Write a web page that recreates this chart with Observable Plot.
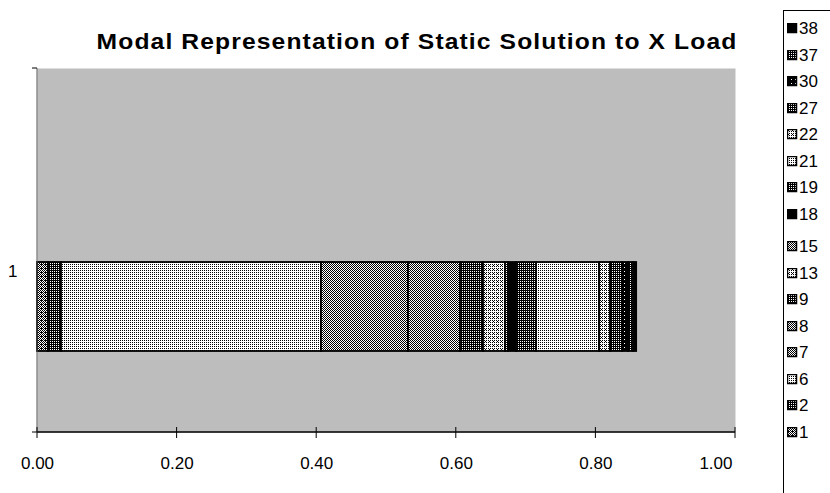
<!DOCTYPE html>
<html>
<head>
<meta charset="utf-8">
<script src="https://cdn.jsdelivr.net/npm/d3@7"></script>
<script src="https://cdn.jsdelivr.net/npm/@observablehq/plot@0.6"></script>
<style>
  html, body { margin: 0; padding: 0; background: #fff; overflow: hidden; }
  #page { position: relative; width: 830px; height: 493px; overflow: hidden; font-family: Arial, "Liberation Sans", sans-serif; }
  #title { position: absolute; left: 62px; width: 710px; top: 29px; text-align: center; font-weight: bold; font-size: 22px; letter-spacing: 1px; color: #000; transform: scaleX(1.12); transform-origin: 355px 0; }
  #chart { position: absolute; left: 0; top: 0; }
  #legend { position: absolute; left: 783px; top: 10px; width: 80px; height: 500px; border-left: 1px solid #000; border-top: 1px solid #000; }
  .item { position: absolute; left: 3px; height: 17px; display: flex; align-items: center; font-size: 17px; line-height: 17px; }
  .item svg { margin-right: 1px; }
</style>
</head>
<body>
<svg width="0" height="0" style="position:absolute"><defs id="patterns"></defs></svg>
<div id="page">
  <div id="chart"></div>
  <div id="title">Modal Representation of Static Solution to X Load</div>
  <div id="legend"></div>
</div>
<script>
// Participation of each mode in the static solution, stacked left to right
const modes = ["1", "2", "6", "7", "8", "9", "13", "15", "18", "19", "21", "22", "27", "30", "37", "38"];
const shares = [0.0158, 0.0186, 0.3725, 0.1246, 0.0745, 0.0330, 0.0315, 0.0043, 0.0115, 0.0287, 0.0903, 0.0158, 0.0172, 0.0086, 0.0072, 0.0043];
const categories = ["1"];
const xTicks = [0, 0.2, 0.4, 0.6, 0.8, 1.0];

// Halftone density (fraction of dark pixels) used to shade each mode
const density = {
  "1": 0.55, "2": 0.7, "6": 0.19, "7": 0.44, "8": 0.5, "9": 0.7, "13": 0.31, "15": 0.5,
  "18": 1.0, "19": 0.69, "21": 0.25, "22": 0.31, "27": 0.75, "30": 0.88, "37": 0.69, "38": 0.94
};

// 4x4 ordered-dither matrix for building the shading patterns
const bayer = [[0, 8, 2, 10], [12, 4, 14, 6], [3, 11, 1, 9], [15, 7, 13, 5]];
const defs = d3.select("#patterns");
function makePattern(id, d, ink) {
  const p = defs.append("pattern").attr("id", id).attr("patternUnits", "userSpaceOnUse")
    .attr("width", 4).attr("height", 4);
  p.append("rect").attr("width", 4).attr("height", 4).attr("fill", "#fff");
  for (let i = 0; i < 4; i++) for (let j = 0; j < 4; j++) {
    if (bayer[i][j] < d * 16) {
      p.append("rect").attr("x", j).attr("y", i).attr("width", 1).attr("height", 1)
        .attr("fill", ink).attr("shape-rendering", "crispEdges");
    }
  }
}
makePattern("plot-bg", 0.5, "#7a7a7a");
modes.forEach(m => makePattern(`mode-${m}`, density[m], "#000"));

const data = modes.map((m, i) => ({mode: m, share: shares[i], cat: categories[0]}));

// Axis lines and cross ticks
function axisLines(index, scales, values, dims) {
  const {x} = scales;
  const {height, marginLeft, marginTop, marginBottom} = dims;
  const y0 = height - marginBottom;
  const g = d3.create("svg:g").attr("stroke", "#000").attr("fill", "none");
  g.append("line").attr("x1", x(0)).attr("x2", x(1)).attr("y1", y0).attr("y2", y0).attr("stroke-width", 1.5);
  g.append("line").attr("x1", marginLeft).attr("x2", marginLeft).attr("y1", marginTop).attr("y2", y0).attr("stroke", "#555");
  for (const yy of [marginTop, y0]) {
    g.append("line").attr("x1", marginLeft - 5).attr("x2", marginLeft).attr("y1", yy).attr("y2", yy);
  }
  for (const t of xTicks) {
    g.append("line").attr("x1", x(t)).attr("x2", x(t)).attr("y1", y0 - 5).attr("y2", y0 + 6);
  }
  return g.node();
}

const chart = Plot.plot({
  width: 760,
  height: 493,
  marginLeft: 37,
  marginRight: 25,
  marginTop: 68,
  marginBottom: 61,
  style: {fontFamily: "Arial, 'Liberation Sans', sans-serif", fontSize: "17px", background: "transparent", color: "#000"},
  x: {domain: [0, 1], axis: null},
  y: {domain: categories, padding: 0, axis: null},
  color: {type: "identity"},
  marks: [
    Plot.frame({fill: "url(#plot-bg)", stroke: "none"}),
    Plot.barX(data, {
      x: "share", y: "cat",
      fill: d => `url(#mode-${d.mode})`,
      stroke: "#000", strokeWidth: 1.8,
      insetTop: 194, insetBottom: 81
    }),
    axisLines,
    Plot.axisX(xTicks.slice(0, -1), {label: null, tickSize: 0, tickPadding: 24, tickFormat: d3.format(".2f")}),
    Plot.axisX(xTicks.slice(-1), {label: null, tickSize: 0, tickPadding: 24, tickFormat: d3.format(".2f"), textAnchor: "end", dx: -3}),
    Plot.axisY({label: null, tickSize: 0, tickPadding: 20, dy: 21})
  ]
});
document.getElementById("chart").append(chart);

// Legend, listed from the last mode to the first
const legend = d3.select("#legend");
modes.slice().reverse().forEach((m, i) => {
  const item = legend.append("div").attr("class", "item").style("top", `${9 + i * 26.5 + (i >= 8 ? 6 : 0)}px`);
  const sw = item.append("svg").attr("width", 11).attr("height", 11);
  sw.append("rect").attr("x", 0.5).attr("y", 0.5).attr("width", 9).attr("height", 9)
    .attr("fill", `url(#mode-${m})`).attr("stroke", "#000").attr("stroke-width", 1.5);
  item.append("span").text(m);
});
</script>
</body>
</html>
